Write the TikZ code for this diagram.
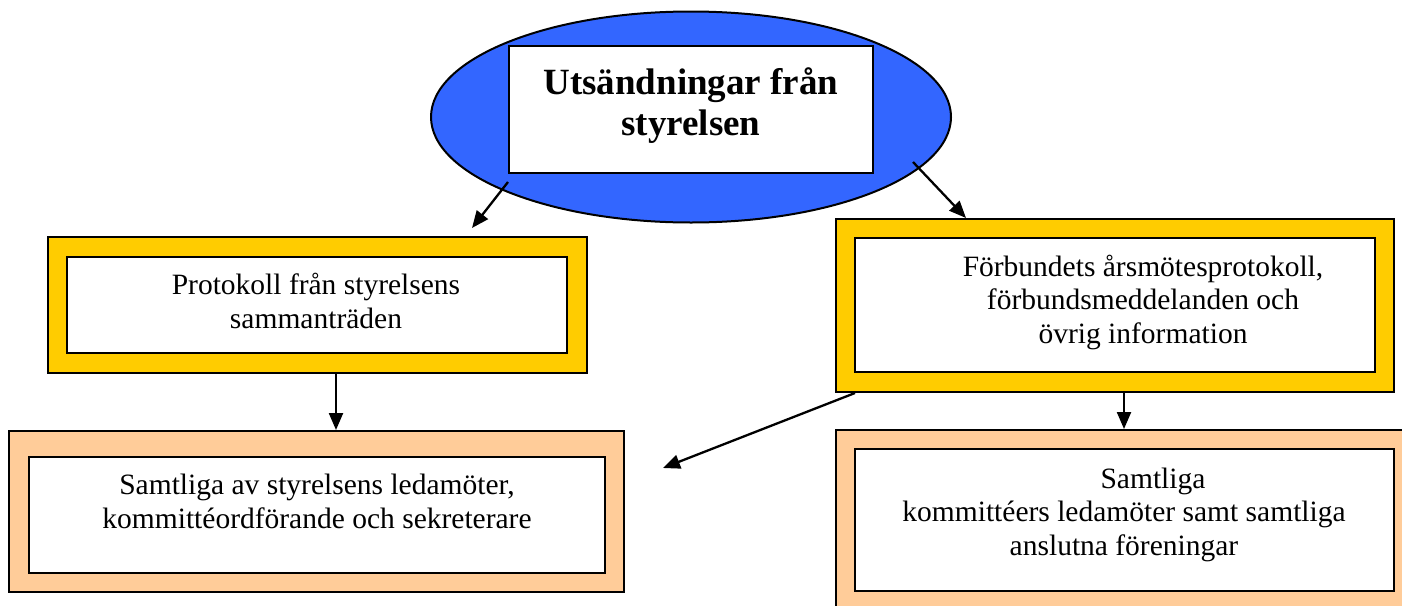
\documentclass[tikz,border=0pt]{standalone}
\usepackage{fontspec}
\setmainfont{Liberation Serif}
\usetikzlibrary{shapes.geometric,arrows.meta,calc}
\definecolor{ellblue}{HTML}{3366FF}
\definecolor{boxyellow}{HTML}{FFCC00}
\definecolor{boxorange}{HTML}{FFCC99}
\begin{document}
\begin{tikzpicture}[x=1pt,y=-1pt,
  outerY/.style={draw=black,line width=2pt,fill=boxyellow,rectangle,inner sep=0pt},
  outerO/.style={draw=black,line width=2pt,fill=boxorange,rectangle,inner sep=0pt},
  innerW/.style={draw=black,line width=2pt,fill=white,rectangle,inner sep=0pt},
  bodytext/.style={font={\fontsize{29.5}{33.5}\selectfont},align=center,anchor=base,inner sep=0pt},
  conn/.style={line width=2.3pt,-{Triangle[length=17pt,width=14pt]}}]
\useasboundingbox (0,0) rectangle (1402,605);
\clip (0,0) rectangle (1402,605);
% top ellipse
\node[ellipse,draw=black,line width=2pt,fill=ellblue,minimum width=520,minimum height=211,inner sep=0pt] (ell) at (691,117) {};
\node[innerW,minimum width=364,minimum height=127] (titlebox) at (691,109.5) {};
\node[font={\fontsize{37}{41}\bfseries\selectfont},align=center,anchor=base,inner sep=0pt] (title) at (691,135) {Utsändningar från\\styrelsen};
% left yellow
\node[outerY,minimum width=539,minimum height=136] (lyo) at (317.5,305) {};
\node[innerW,minimum width=500,minimum height=96] (lyi) at (317,305) {};
\node[bodytext] (lyt) at (316,328) {Protokoll från styrelsens\\sammanträden};
% right yellow
\node[outerY,minimum width=558,minimum height=173] (ryo) at (1115,305.5) {};
\node[innerW,minimum width=520,minimum height=134] (ryi) at (1115,305) {};
\node[bodytext] (ryt) at (1143,343) {Förbundets årsmötesprotokoll,\\förbundsmeddelanden och\\övrig information};
% left orange
\node[outerO,minimum width=615,minimum height=161] (loo) at (316.5,511.5) {};
\node[innerW,minimum width=576,minimum height=116] (loi) at (317,515) {};
\node[bodytext] (lot) at (317,528) {Samtliga av styrelsens ledamöter,\\kommittéordförande och sekreterare};
% right orange
\node[outerO,minimum width=578,minimum height=185] (roo) at (1125,522.5) {};
\node[innerW,minimum width=539,minimum height=142] (roi) at (1124.5,520) {};
\node[bodytext] (rot) at (1124,555) {\hspace*{58pt}Samtliga\\kommittéers ledamöter samt samtliga\\anslutna föreningar};
% connectors
\coordinate (lstart) at ($(titlebox.south west)+(0,8)$);
\coordinate (ltip) at (472,228);
\coordinate (rstart) at (913,162);
\draw[conn] (lstart) -- (ltip);
\draw[conn] (rstart) -- (ryo.north west -| 966,0);
\draw[conn] (lyo.south -| 336,0) -- (loo.north -| 336,0);
\draw[conn] (ryo.south -| 1124,0) -- (roo.north -| 1124,0);
\coordinate (dtip) at (663,468);
\draw[conn] (ryo.south west -| 855,0) -- (dtip);
\end{tikzpicture}
\end{document}
